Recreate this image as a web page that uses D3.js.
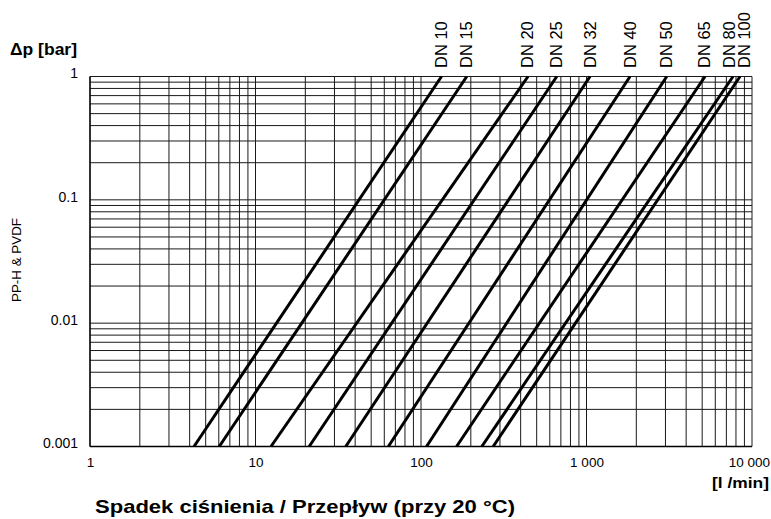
<!DOCTYPE html>
<html>
<head>
<meta charset="utf-8">
<script src="https://cdn.jsdelivr.net/npm/d3@7"></script>
<style>
  html, body { margin: 0; padding: 0; background: #fff; }
  svg { display: block; font-family: "Liberation Sans", Arial, Helvetica, sans-serif; }
</style>
</head>
<body>
<svg id="chart" width="771" height="519"></svg>
<script>
// ---- Data ----
const seriesNames = ["DN 10", "DN 15", "DN 20", "DN 25", "DN 32", "DN 40", "DN 50", "DN 65", "DN 80", "DN 100"];
// flow [l/min] where each line meets Δp = 0.001 bar and Δp = 1 bar
const flowAtLowDp  = [4.25, 6.04, 12.4, 21.1, 35.1, 63.5, 108, 164, 233, 273];
const flowAtHighDp = [133, 189, 443, 661, 1050, 1832, 3053, 5200, 7680, 8460];
const dpEnds = [0.001, 1];

const xTickValues = [1, 10, 100, 1000, 10000];
const xTickLabels = ["1", "10", "100", "1 000", "10 000"];
const yTickValues = [0.001, 0.01, 0.1, 1];
const yTickLabels = ["0.001", "0.01", "0.1", "1"];

const yLabel = "Δp [bar]";
const xUnit = "[l /min]";
const sideLabel = "PP-H & PVDF";
const title = "Spadek ciśnienia / Przepływ (przy 20 °C)";

// ---- Layout ----
const svg = d3.select("#chart");
const W = 771;
const L = 90, R = 752, T = 76.5, B = 446.5;

const x = d3.scaleLog().domain([1, 10000]).range([L, R]);
const y = d3.scaleLog().domain([0.001, 1]).range([B, T]);

// grid
const xGrid = [];
for (let d = 1; d < 10000; d *= 10) for (let k = 1; k <= 9; k++) xGrid.push(d * k);
xGrid.push(10000);
const yGrid = [];
for (let d = 0.001; d < 0.99; d *= 10) for (let k = 1; k <= 9; k++) yGrid.push(d * k);
yGrid.push(1);

const grid = svg.append("g").attr("stroke", "#1a1a1a").attr("stroke-width", 1);
grid.selectAll("line.v").data(xGrid).join("line").attr("class", "v")
  .attr("x1", d => x(d)).attr("x2", d => x(d)).attr("y1", T).attr("y2", B);
grid.selectAll("line.h").data(yGrid).join("line").attr("class", "h")
  .attr("x1", L).attr("x2", R).attr("y1", d => y(d)).attr("y2", d => y(d));

// axis lines (stronger)
svg.append("line").attr("x1", L).attr("x2", L).attr("y1", T).attr("y2", B).attr("stroke", "#000").attr("stroke-width", 1.3);
svg.append("line").attr("x1", L).attr("x2", R).attr("y1", B).attr("y2", B).attr("stroke", "#000").attr("stroke-width", 1.3);

// series lines
const series = seriesNames.map((name, i) => ({
  name,
  pts: [[flowAtLowDp[i], dpEnds[0]], [flowAtHighDp[i], dpEnds[1]]]
}));
const line = d3.line().x(d => x(d[0])).y(d => y(d[1]));
svg.append("g").selectAll("path").data(series).join("path")
  .attr("d", d => line(d.pts))
  .attr("fill", "none").attr("stroke", "#000").attr("stroke-width", 3);

// series labels (rotated), with simple spacing relaxation
const lab = series.map(s => ({ name: s.name, x: x(s.pts[1][0]) }));
for (let it = 0; it < 50; it++) {
  for (let i = 1; i < lab.length; i++) {
    const gap = lab[i].x - lab[i - 1].x;
    if (gap < 15) { const m = (15 - gap) / 2; lab[i].x += m; lab[i - 1].x -= m; }
  }
}
svg.append("g").selectAll("text").data(lab).join("text")
  .attr("transform", d => `translate(${d.x + 5.5},68) rotate(-90)`)
  .attr("font-size", 16.5).attr("fill", "#000")
  .text(d => d.name);

// axes (labels only)
const xAxis = d3.axisBottom(x).tickValues(xTickValues)
  .tickFormat((d, i) => xTickLabels[i]).tickSize(0).tickPadding(11);
const gx = svg.append("g").attr("transform", `translate(0,${B})`).call(xAxis);
gx.select(".domain").remove();
gx.selectAll("text").attr("font-size", 13.5).attr("font-family", "Liberation Sans, Arial, sans-serif").attr("fill", "#000");
// keep the last label inside the page
gx.selectAll("text").each(function () {
  const bb = this.getBBox();
  const tx = x(d3.select(this.parentNode).datum());
  const right = tx + bb.x + bb.width;
  if (right > W - 1.5) d3.select(this).attr("dx", (W - 1.5 - right) + "px");
});

const yAxis = d3.axisLeft(y).tickValues(yTickValues)
  .tickFormat((d, i) => yTickLabels[i]).tickSize(0).tickPadding(12);
const gy = svg.append("g").attr("transform", `translate(${L},0)`).call(yAxis);
gy.select(".domain").remove();
gy.selectAll("text").attr("font-size", 14).attr("font-family", "Liberation Sans, Arial, sans-serif").attr("fill", "#000")
  .attr("dy", "0.1em");

// titles
svg.append("text").attr("x", 10).attr("y", 55).attr("font-size", 16).attr("font-weight", "bold")
  .attr("textLength", 67).attr("lengthAdjust", "spacingAndGlyphs").text(yLabel);
svg.append("text").attr("x", 712).attr("y", 488)
  .attr("font-size", 15).attr("font-weight", "bold")
  .attr("textLength", 57).attr("lengthAdjust", "spacingAndGlyphs").text(xUnit);
svg.append("text").attr("transform", "translate(21,260) rotate(-90)").attr("text-anchor", "middle")
  .attr("font-size", 12.5).attr("textLength", 84).attr("lengthAdjust", "spacingAndGlyphs").text(sideLabel);
svg.append("text").attr("x", 95).attr("y", 513).attr("font-size", 19).attr("font-weight", "bold")
  .attr("textLength", 420).attr("lengthAdjust", "spacingAndGlyphs").text(title);
</script>
</body>
</html>
